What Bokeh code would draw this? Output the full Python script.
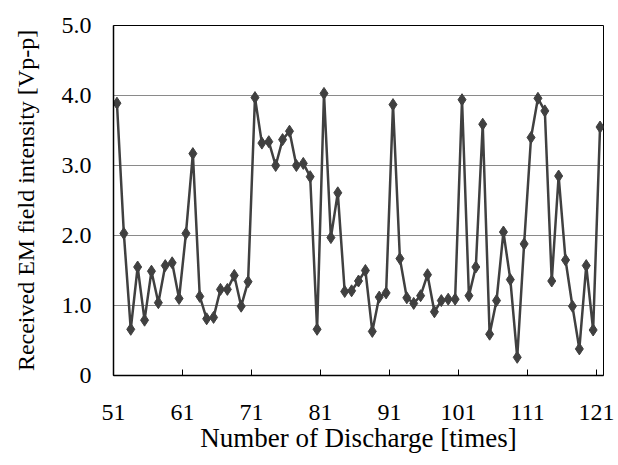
from bokeh.plotting import figure
from bokeh.models import Range1d, FixedTicker, ColumnDataSource
from bokeh.embed import file_html
from bokeh.resources import INLINE

# Data
discharge = list(range(51, 122))
intensity = [3.89, 2.03, 0.66, 1.55, 0.79, 1.49, 1.04, 1.57, 1.61, 1.10,
             2.03, 3.17, 1.13, 0.81, 0.83, 1.23, 1.23, 1.43, 0.99, 1.34,
             3.97, 3.32, 3.34, 3.00, 3.37, 3.49, 3.00, 3.03, 2.84, 0.66,
             4.03, 1.97, 2.61, 1.20, 1.21, 1.35, 1.50, 0.63, 1.12, 1.18,
             3.87, 1.67, 1.11, 1.03, 1.14, 1.44, 0.91, 1.07, 1.09, 1.09,
             3.94, 1.14, 1.55, 3.59, 0.59, 1.07, 2.05, 1.37, 0.26, 1.88,
             3.40, 3.96, 3.78, 1.35, 2.85, 1.65, 0.99, 0.38, 1.57, 0.65,
             3.55]
x_tick_pos = [50.5, 60.5, 70.5, 80.5, 90.5, 100.5, 110.5, 120.5]
x_tick_labels = ["51", "61", "71", "81", "91", "101", "111", "121"]
y_ticks = [0, 1, 2, 3, 4, 5]
y_tick_labels = ["0", "1.0", "2.0", "3.0", "4.0", "5.0"]

FONT = "Liberation Serif"
COL = "#404040"

src = ColumnDataSource(dict(x=discharge, y=intensity))

p = figure(width=618, height=465, output_backend="svg", toolbar_location=None,
           x_range=Range1d(50.5, 121.5), y_range=Range1d(0, 5),
           min_border_left=113, min_border_right=15, min_border_top=25,
           min_border_bottom=90)
p.background_fill_color = "white"
p.border_fill_color = "white"
p.outline_line_color = "black"
p.outline_line_width = 1

p.line("x", "y", source=src, line_color=COL, line_width=2.5)
p.scatter("x", "y", source=src, marker="diamond", size=12,
          fill_color=COL, line_color=COL)

# x axis
p.xaxis.ticker = FixedTicker(ticks=x_tick_pos)
p.xaxis.major_label_overrides = {t: l for t, l in zip(x_tick_pos, x_tick_labels)}
p.xaxis.minor_tick_line_color = None
p.xaxis.major_tick_in = 6
p.xaxis.major_tick_out = 0
p.xaxis.major_tick_line_color = "black"
p.xaxis.axis_line_color = "black"
p.xaxis.axis_line_width = 1.5
p.xaxis.major_label_text_font = FONT
p.xaxis.major_label_text_font_size = "24px"
p.xaxis.major_label_text_color = "black"
p.xaxis.major_label_standoff = 29
p.xaxis.axis_label = "Number of Discharge [times]"
p.xaxis.axis_label_text_font = FONT
p.xaxis.axis_label_text_font_size = "27px"
p.xaxis.axis_label_text_font_style = "normal"
p.xaxis.axis_label_text_color = "black"
p.xaxis.axis_label_standoff = 0

# y axis
p.yaxis.ticker = FixedTicker(ticks=y_ticks)
p.yaxis.major_label_overrides = {t: l for t, l in zip(y_ticks, y_tick_labels)}
p.yaxis.minor_tick_line_color = None
p.yaxis.major_tick_in = 0
p.yaxis.major_tick_out = 0
p.yaxis.major_tick_line_color = None
p.yaxis.axis_line_color = "black"
p.yaxis.axis_line_width = 1.5
p.yaxis.major_label_text_font = FONT
p.yaxis.major_label_text_font_size = "24px"
p.yaxis.major_label_text_color = "black"
p.yaxis.major_label_standoff = 22
p.yaxis.axis_label = "Received EM field intensity [Vp-p]"
p.yaxis.axis_label_text_font = FONT
p.yaxis.axis_label_text_font_size = "24px"
p.yaxis.axis_label_text_font_style = "normal"
p.yaxis.axis_label_text_color = "black"
p.yaxis.axis_label_standoff = 20

p.xgrid.grid_line_color = None
p.ygrid.ticker = FixedTicker(ticks=y_ticks)
p.ygrid.grid_line_color = "#8a8a8a"
p.ygrid.grid_line_width = 1.2

open("out.html", "w").write(file_html(p, INLINE))
